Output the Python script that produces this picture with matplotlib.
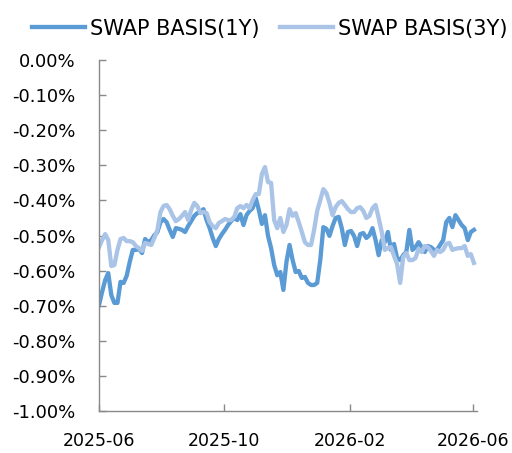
import matplotlib
matplotlib.use("Agg")
import matplotlib.pyplot as plt
import matplotlib.dates as mdates
from matplotlib.ticker import FuncFormatter, MultipleLocator
import pandas as pd

# Swap basis, percent, sampled every third calendar day from 2025-06-01
basis_1y = [
    -0.698, -0.661, -0.627, -0.607, -0.670, -0.692, -0.692, -0.632, -0.635, -0.615,
    -0.575, -0.541, -0.541, -0.538, -0.550, -0.510, -0.519, -0.513, -0.499, -0.490,
    -0.462, -0.453, -0.462, -0.484, -0.504, -0.479, -0.481, -0.484, -0.490, -0.473,
    -0.459, -0.444, -0.436, -0.433, -0.425, -0.456, -0.479, -0.507, -0.530, -0.510,
    -0.496, -0.484, -0.470, -0.459, -0.450, -0.456, -0.439, -0.470, -0.442, -0.430,
    -0.422, -0.393, -0.427, -0.467, -0.442, -0.501, -0.536, -0.584, -0.613, -0.604,
    -0.655, -0.575, -0.527, -0.570, -0.604, -0.601, -0.621, -0.618, -0.635, -0.641,
    -0.641, -0.635, -0.570, -0.476, -0.481, -0.501, -0.473, -0.450, -0.447, -0.479,
    -0.527, -0.490, -0.487, -0.501, -0.530, -0.496, -0.493, -0.507, -0.499, -0.479,
    -0.513, -0.556, -0.513, -0.519, -0.490, -0.541, -0.524, -0.564, -0.570, -0.556,
    -0.547, -0.484, -0.541, -0.533, -0.519, -0.533, -0.547, -0.530, -0.533, -0.541,
    -0.541, -0.527, -0.513, -0.462, -0.450, -0.476, -0.442, -0.456, -0.470, -0.479,
    -0.513, -0.490, -0.484,
]
basis_3y = [
    -0.533, -0.513, -0.496, -0.513, -0.587, -0.584, -0.541, -0.510, -0.507, -0.516,
    -0.516, -0.519, -0.530, -0.536, -0.544, -0.521, -0.524, -0.527, -0.507, -0.484,
    -0.433, -0.416, -0.413, -0.425, -0.444, -0.459, -0.453, -0.444, -0.433, -0.456,
    -0.427, -0.407, -0.416, -0.436, -0.433, -0.436, -0.462, -0.473, -0.479, -0.464,
    -0.459, -0.453, -0.456, -0.456, -0.447, -0.422, -0.416, -0.422, -0.413, -0.422,
    -0.399, -0.382, -0.382, -0.325, -0.305, -0.348, -0.350, -0.456, -0.479, -0.450,
    -0.490, -0.470, -0.425, -0.444, -0.436, -0.462, -0.490, -0.519, -0.527, -0.527,
    -0.484, -0.430, -0.399, -0.368, -0.379, -0.407, -0.442, -0.419, -0.407, -0.402,
    -0.413, -0.425, -0.433, -0.433, -0.422, -0.419, -0.430, -0.450, -0.444, -0.422,
    -0.413, -0.450, -0.490, -0.541, -0.536, -0.533, -0.558, -0.581, -0.635, -0.561,
    -0.550, -0.570, -0.570, -0.564, -0.538, -0.547, -0.530, -0.533, -0.544, -0.558,
    -0.541, -0.547, -0.541, -0.524, -0.521, -0.541, -0.538, -0.536, -0.536, -0.530,
    -0.558, -0.553, -0.578,
]
dates = pd.date_range("2025-06-01", periods=len(basis_1y), freq="3D")

series_names = ["SWAP BASIS(1Y)", "SWAP BASIS(3Y)"]
colors = ["#5B9BD5", "#A9C4E7"]
tick_dates = pd.to_datetime(["2025-06-01", "2025-10-01", "2026-02-01", "2026-06-01"])

plt.rcParams["font.family"] = ["DejaVu Sans"]

fig = plt.figure(figsize=(5.12, 4.53), dpi=100)
ax = fig.add_axes([0.1934, 0.0927, 0.7382, 0.7748])

for vals, name, col in zip([basis_1y, basis_3y], series_names, colors):
    ax.plot(dates, vals, color=col, lw=3.1, label=name, solid_joinstyle="round")

ax.set_ylim(-1.0, 0.0)
ax.yaxis.set_major_locator(MultipleLocator(0.1))
ax.yaxis.set_major_formatter(FuncFormatter(lambda v, p: f"{v:.2f}%"))
ax.set_xlim(pd.Timestamp("2025-06-01"), pd.Timestamp("2026-06-05"))
ax.set_xticks(tick_dates)
ax.xaxis.set_major_formatter(mdates.DateFormatter("%Y-%m"))

for side in ["top", "right"]:
    ax.spines[side].set_visible(False)
for side in ["left", "bottom"]:
    ax.spines[side].set_color("#898989")
    ax.spines[side].set_linewidth(1.0)
ax.tick_params(axis="both", direction="in", length=5, width=1.0, color="#898989",
               labelcolor="black")
ax.tick_params(axis="y", pad=17, labelsize=13)
ax.tick_params(axis="x", pad=15, labelsize=12.5)

fig.legend(loc="upper center", bbox_to_anchor=(0.527, 1.0), ncol=2, frameon=False,
           fontsize=15, handlelength=2.57, handletextpad=0.24, columnspacing=0.95)

fig.savefig("out.png", dpi=100)
